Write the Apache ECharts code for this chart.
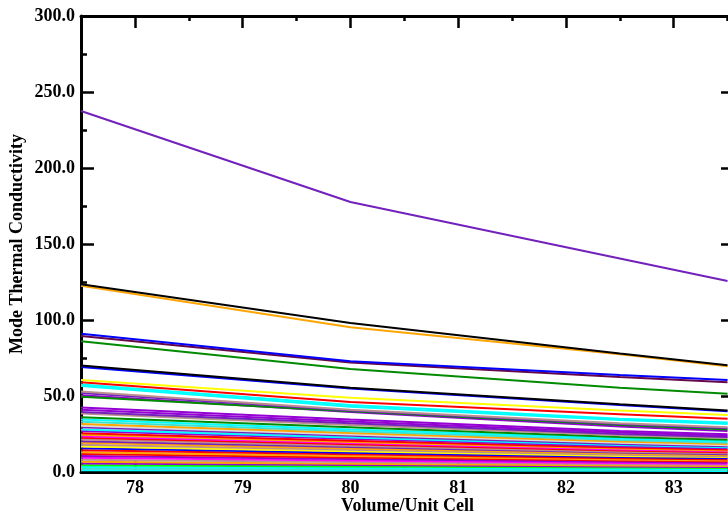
<!DOCTYPE html>
<html>
<head>
<meta charset="utf-8">
<script src="https://cdn.jsdelivr.net/npm/echarts@6/dist/echarts.min.js"></script>
<style>
html,body{margin:0;padding:0;background:#fff;}
#chart{width:728px;height:514px;}
</style>
</head>
<body>
<div id="chart"></div>
<script>
// Volumes (x positions of data points)
var volumes = [77.5, 80, 82.5, 83.5];

// x axis tick labels / tick positions
var xMajorTicks = [78, 79, 80, 81, 82, 83];
var xMinorTicks = [78.5, 79.5, 80.5, 81.5, 82.5, 83.5];

// Line colours (xmgrace-like palette), one per mode
var modeColors = [
  '#7221bc', '#000000', '#ffa500', '#0000ff', '#670748', '#008b00',
  '#000000', '#0000ff', '#ffff00', '#ff0000', '#00ffff', '#00ffff',
  '#bc8f8f', '#7221bc', '#008b00', '#9400d3',
  '#9400d3', '#9400d3', '#7221bc', '#bc8f8f', '#008b00', '#00ffff',
  '#40e0d0', '#ffa500', '#dcdcdc', '#7221bc', '#00ffff', '#9400d3',
  '#ff0000', '#ffa500', '#ff00ff', '#ff0000', '#bc8f8f', '#7221bc',
  '#ffa500', '#bc8f8f', '#ffff00', '#0000ff', '#ff0000', '#ffa500',
  '#ff0000', '#9400d3', '#ff00ff', '#bc8f8f', '#ffa500', '#9400d3',
  '#00ff00', '#00ffff', '#40e0d0', '#00ffff'
];

// Mode thermal conductivity values at each volume, one row per mode
var modeValues = [
  [237.5, 177.6, 140.5, 125.7],
  [123.5, 98.0, 78.0, 70.3],
  [122.5, 95.2, 77.5, 69.6],
  [91.0, 72.8, 63.8, 60.5],
  [89.5, 72.0, 62.5, 59.0],
  [86.0, 67.8, 55.5, 51.5],
  [70.0, 55.5, 44.5, 40.5],
  [69.0, 55.0, 44.0, 40.0],
  [60.5, 48.8, 40.5, 37.5],
  [59.0, 46.0, 38.0, 35.0],
  [57.5, 44.0, 35.0, 32.5],
  [56.5, 43.0, 34.2, 31.5],
  [53.0, 41.0, 32.0, 29.5],
  [52.0, 40.5, 31.5, 28.8],
  [49.5, 40.0, 31.0, 28.0],
  [50.5, 39.5, 30.0, 27.0],
  [42.5, 34.5, 27.0, 24.8],
  [41.0, 33.2, 26.0, 23.8],
  [39.5, 32.0, 25.0, 23.0],
  [38.5, 31.0, 24.2, 22.3],
  [36.0, 29.5, 23.0, 21.2],
  [34.5, 28.0, 22.0, 20.2],
  [33.0, 26.8, 21.0, 19.3],
  [31.5, 25.6, 20.0, 18.4],
  [30.5, 24.6, 19.2, 17.6],
  [29.5, 23.8, 18.5, 17.0],
  [28.0, 22.7, 17.7, 16.3],
  [27.0, 21.8, 17.0, 15.6],
  [25.5, 20.6, 16.1, 14.8],
  [24.5, 19.8, 15.4, 14.2],
  [23.5, 19.0, 14.8, 13.6],
  [22.5, 18.2, 14.2, 13.0],
  [21.3, 17.2, 13.4, 12.3],
  [20.3, 16.4, 12.8, 11.7],
  [19.2, 15.5, 12.1, 11.1],
  [18.0, 14.6, 11.4, 10.4],
  [16.8, 13.6, 10.6, 9.8],
  [15.6, 12.6, 9.9, 9.1],
  [14.3, 11.6, 9.0, 8.3],
  [13.0, 10.5, 8.2, 7.6],
  [11.8, 9.6, 7.5, 6.9],
  [10.5, 8.5, 6.7, 6.1],
  [9.3, 7.6, 5.9, 5.4],
  [8.0, 6.5, 5.1, 4.7],
  [6.8, 5.5, 4.3, 4.0],
  [5.6, 4.6, 3.6, 3.3],
  [4.5, 3.7, 2.9, 2.6],
  [3.3, 2.7, 2.1, 1.9],
  [2.2, 1.8, 1.4, 1.3],
  [1.2, 1.0, 0.8, 0.7]
];

var FONT = "'Liberation Serif', 'Times New Roman', serif";
var X_MIN = 77.5, X_MAX = 83.56;

var series = [];
for (var i = modeValues.length - 1; i >= 0; i--) {
  var row = modeValues[i];
  var pts = [];
  for (var j = 0; j < volumes.length; j++) pts.push([volumes[j], row[j]]);
  series.push({
    type: 'line',
    data: pts,
    showSymbol: false,
    symbol: 'none',
    clip: true,
    xAxisIndex: 0,
    yAxisIndex: 0,
    lineStyle: { color: modeColors[i], width: 2 },
    emphasis: { disabled: true },
    silent: true
  });
}

function xAxisDef(pos, ticks, len, showLine, showLabel) {
  return {
    type: 'value', position: pos, min: X_MIN, max: X_MAX,
    splitLine: { show: false },
    axisLine: { show: showLine, onZero: false, lineStyle: { color: '#000', width: 3 } },
    axisTick: { show: true, inside: true, length: len, customValues: ticks,
      lineStyle: { color: '#000', width: 2.5 } },
    axisLabel: showLabel ? {
      show: true, customValues: ticks, margin: 7,
      fontFamily: FONT, fontWeight: 'bold', fontSize: 18, color: '#000',
      formatter: function (v) { return String(Math.round(v)); }
    } : { show: false }
  };
}

var xAxes = [
  xAxisDef('bottom', xMajorTicks, 12, true, true),
  xAxisDef('bottom', xMinorTicks, 5, false, false),
  xAxisDef('top', xMajorTicks, 12, true, false),
  xAxisDef('top', xMinorTicks, 5, false, false)
];
xAxes[0].name = 'Volume/Unit Cell';
xAxes[0].nameLocation = 'middle';
xAxes[0].nameGap = 25;
xAxes[0].nameMoveOverlap = false;
xAxes[0].nameTextStyle = { fontFamily: FONT, fontWeight: 'bold', fontSize: 18, color: '#000' };

function yAxisDef(pos, showLabel) {
  return {
    type: 'value', position: pos, min: 0, max: 300, interval: 50,
    splitLine: { show: false },
    axisLine: { show: true, onZero: false, lineStyle: { color: '#000', width: 3 } },
    axisTick: { show: true, inside: true, length: 13, lineStyle: { color: '#000', width: 2.5 } },
    minorTick: { show: true, splitNumber: 2, length: 6, lineStyle: { color: '#000', width: 2.5 } },
    minorSplitLine: { show: false },
    axisLabel: showLabel ? {
      show: true, margin: 6,
      fontFamily: FONT, fontWeight: 'bold', fontSize: 18, color: '#000',
      formatter: function (v) { return v.toFixed(1); }
    } : { show: false }
  };
}
var yAxes = [yAxisDef('left', true), yAxisDef('right', false)];
yAxes[0].name = 'Mode Thermal Conductivity';
yAxes[0].nameLocation = 'middle';
yAxes[0].nameRotate = 90;
yAxes[0].nameGap = 55;
yAxes[0].nameMoveOverlap = false;
yAxes[0].nameTextStyle = { fontFamily: FONT, fontWeight: 'bold', fontSize: 18, color: '#000' };

var chart = echarts.init(document.getElementById('chart'), null, { renderer: 'canvas' });
chart.setOption({
  animation: false,
  backgroundColor: '#fff',
  grid: { left: 81, top: 16, width: 653, height: 456, containLabel: false, outerBoundsMode: 'none' },
  xAxis: xAxes,
  yAxis: yAxes,
  series: series
});
</script>
</body>
</html>
